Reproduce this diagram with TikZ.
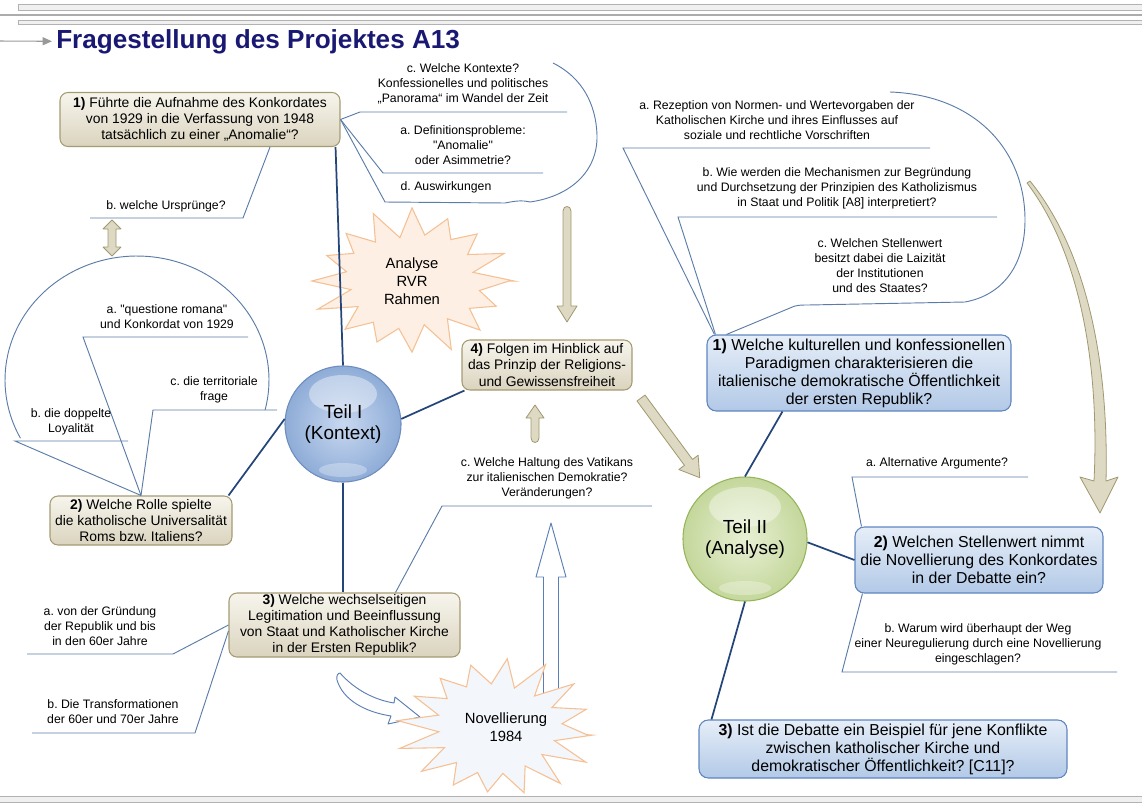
\documentclass[tikz,border=0pt]{standalone}
\usepackage{fontspec}
\setmainfont{Liberation Sans}[Ligatures=TeXOff]
\usetikzlibrary{calc,arrows.meta}
\frenchspacing

\definecolor{titleblue}{RGB}{25,25,115}
\definecolor{mainline}{RGB}{36,69,122}
\definecolor{thinline}{RGB}{92,124,168}
\definecolor{tantop}{RGB}{247,245,237}
\definecolor{tanbot}{RGB}{218,211,190}
\definecolor{tanedge}{RGB}{165,155,115}
\definecolor{bluetop}{RGB}{230,238,248}
\definecolor{bluebot}{RGB}{178,201,231}
\definecolor{blueedge}{RGB}{95,134,190}
\definecolor{arrowfill}{RGB}{221,217,195}
\definecolor{arrowedge}{RGB}{160,152,112}
\definecolor{starfill}{RGB}{253,239,227}
\definecolor{staredge}{RGB}{245,192,147}
\definecolor{startwofill}{RGB}{243,246,251}
\definecolor{hollowedge}{RGB}{91,127,181}
\definecolor{teilonein}{RGB}{200,216,240}
\definecolor{teiloneout}{RGB}{142,172,215}
\definecolor{teiloneedge}{RGB}{110,140,190}
\definecolor{teiltwoin}{RGB}{232,240,212}
\definecolor{teiltwoout}{RGB}{196,215,155}
\definecolor{teiltwoedge}{RGB}{150,180,90}

\newcommand\myFontTan{\fontsize{10.4}{12.2}\selectfont}
\newcommand\myFontBlue{\fontsize{11.9}{13.5}\selectfont}
\newcommand\myFontSmall{\fontsize{9.2}{11.25}\selectfont}
\newcommand\myFontTeil{\fontsize{14.2}{15.8}\selectfont}
\newcommand\myFontStar{\fontsize{11.1}{13.5}\selectfont}
\newcommand\myFontTitle{\fontsize{19.6}{22}\selectfont\bfseries}

\tikzset{
 tanbox/.style={draw=tanedge, line width=0.8pt, rounded corners=6pt, top color=tantop, bottom color=tanbot, align=center, inner sep=0pt, font=\myFontTan},
 bluebox/.style={draw=blueedge, line width=0.8pt, rounded corners=7pt, top color=bluetop, bottom color=bluebot, align=center, inner sep=0pt, font=\myFontBlue},
 smalltext/.style={align=center, inner sep=0pt, font=\myFontSmall},
 conn/.style={draw=mainline, line width=1.3pt},
 callline/.style={draw=thinline, line width=0.7pt},
 tanarrow/.style={draw=arrowedge, fill=arrowfill, line width=0.6pt, line join=round},
 hollowarrow/.style={draw=hollowedge, fill=white, line width=0.7pt, line join=round},
 starA/.style={draw=staredge, fill=starfill, line width=0.8pt},
 starB/.style={draw=staredge, fill=startwofill, line width=0.8pt},
 startext/.style={align=center, inner sep=0pt, font=\myFontStar},
 teiltext/.style={circle, align=center, inner sep=0pt, font=\myFontTeil},
}

\begin{document}
\begin{tikzpicture}[x=0.75pt,y=-0.75pt]
\useasboundingbox (0,0) rectangle (1142,807);

% header
\draw[draw=gray!60, fill=gray!12, line width=0.6pt] (18,4) rectangle (1146,10);
\draw[gray!65, line width=0.8pt] (-2,15) -- (1146,15);
\draw[draw=gray!60, fill=gray!12, line width=0.6pt] (18,20) rectangle (1146,24);
\node[anchor=base west, font=\myFontTitle, text=titleblue, inner sep=0pt] (title) at (56,48) {Fragestellung des Projektes A13};
\coordinate (tstart) at (-2,41);
\draw[gray!80, line width=0.8pt, -{Triangle[length=7pt,width=6pt]}] (tstart) -- ($(title.west)+(-4,0)$);

% bottom bar
\draw[draw=gray!60, fill=gray!12, line width=0.6pt] (-2,796) rectangle (1146,802);

% star "Analyse RVR Rahmen"
\draw[starA] plot[samples=33, domain=0:32, variable=\t]
 ({412+(mod(round(\t),2)==0 ? 97 : 66)*(1+0.06*sin(round(\t)*137))*cos(\t*11.25)},
  {281+(mod(round(\t),2)==0 ? 70 : 47)*(1+0.06*sin(round(\t)*137))*sin(\t*11.25)}) -- cycle;
\node[startext] (rvr) at (412,281) {Analyse\\RVR\\Rahmen};

% tan arrows
\draw[tanarrow] (563,306) -- (563,211) .. controls (563,205) and (571,205) .. (571,211) -- (571,306) -- (577,306) -- (567,322) -- (557,306) -- cycle;
\draw[tanarrow] (531,418) -- (531,438) .. controls (531,444) and (539,444) .. (539,438) -- (539,418) -- (544,418) -- (535,405) -- (526,418) -- cycle;
\begin{scope}[shift={(641,398)}, rotate=-53.6]
 \draw[tanarrow] (0,-5) -- (80,-5) -- (80,-12) -- (99,0) -- (80,12) -- (80,5) -- (0,5) -- cycle;
\end{scope}
\draw[tanarrow] (112,220) -- (121,229) -- (116,229) -- (116,247) -- (121,247) -- (112,256) -- (103,247) -- (108,247) -- (108,229) -- (103,229) -- cycle;
\draw[tanarrow] (1027,183) .. controls (1078,250) and (1100,360) .. (1094,481) -- (1080,477) -- (1100,513) -- (1118,477) -- (1106,481) .. controls (1109,360) and (1086,250) .. (1030,181) -- cycle;

% hollow arrows
\draw[hollowarrow] (543.5,700) -- (543.5,577) -- (536,577) -- (551,523) -- (566,577) -- (558.5,577) -- (558.5,700) -- cycle;
\draw[hollowarrow] (340,673) .. controls (355,690) and (375,700) .. (394,703) -- (395,697) -- (420,717) -- (388,724) -- (391,716) .. controls (365,712) and (343,700) .. (337,680) .. controls (336,676) and (338,673) .. (340,673) -- cycle;

% star "Novellierung 1984"
\draw[starB] plot[samples=33, domain=0:32, variable=\t]
 ({497+(mod(round(\t),2)==0 ? 96 : 62)*(1+0.06*sin(round(\t)*211))*cos(\t*11.25+6)},
  {728+(mod(round(\t),2)==0 ? 68 : 44)*(1+0.06*sin(round(\t)*211))*sin(\t*11.25+6)}) -- cycle;
\node[startext] (nov) at (506,727) {Novellierung\\1984};

% circles
\shade[inner color=teilonein, outer color=teiloneout] (343,424) circle[radius=58];
\fill[white, opacity=0.4] (343,394) ellipse[x radius=34, y radius=19];
\fill[white, opacity=0.3] (343,470) ellipse[x radius=24, y radius=7];
\node[teiltext, draw=teiloneedge, line width=0.8pt, minimum size=87pt] (t1) at (343,424) {Teil I\\(Kontext)};

\shade[inner color=teiltwoin, outer color=teiltwoout] (745,539) circle[radius=62];
\fill[white, opacity=0.4] (745,507) ellipse[x radius=36, y radius=20];
\fill[white, opacity=0.3] (745,588) ellipse[x radius=26, y radius=7];
\node[teiltext, draw=teiltwoedge, line width=0.8pt, minimum size=93pt] (t2) at (745,539) {Teil II\\(Analyse)};

% boxes
\node[tanbox, minimum width=210pt, minimum height=40.5pt] (a1) at (200,119.5) {\textbf{1)} Führte die Aufnahme des Konkordates\\von 1929 in die Verfassung von 1948\\tatsächlich zu einer „Anomalie“?};
\node[tanbox, minimum width=136.5pt, minimum height=36.75pt] (a2) at (141,520.5) {\textbf{2)} Welche Rolle spielte\\die katholische Universalität\\Roms bzw. Italiens?};
\node[tanbox, minimum width=173.25pt, minimum height=48pt] (a3) at (344.5,625) {\textbf{3)} Welche wechselseitigen\\Legitimation und Beeinflussung\\von Staat und Katholischer Kirche\\in der Ersten Republik?};
\node[tanbox, minimum width=127.5pt, minimum height=37.5pt] (a4) at (547,365) {\textbf{4)} Folgen im Hinblick auf\\das Prinzip der Religions-\\und Gewissensfreiheit};
\node[bluebox, minimum width=228pt, minimum height=57pt] (b1) at (859,373) {\textbf{1)} Welche kulturellen und konfessionellen\\Paradigmen charakterisieren die\\italienische demokratische Öffentlichkeit\\der ersten Republik?};
\node[bluebox, minimum width=186pt, minimum height=49.5pt] (b2) at (979,560) {\textbf{2)} Welchen Stellenwert nimmt\\die Novellierung des Konkordates\\in der Debatte ein?};
\node[bluebox, minimum width=276pt, minimum height=43.5pt] (b3) at (883,749) {\textbf{3)} Ist die Debatte ein Beispiel für jene Konflikte\\zwischen katholischer Kirche und\\demokratischer Öffentlichkeit? [C11]?};

% main connectors
\draw[conn] (t1.north) -- ($(a1.south east)+(-5,0)$);
\draw[conn] (t1.175) -- ($(a2.north east)+(-4,0)$);
\draw[conn] (t1.5) -- ($(a4.south west)+(3,0)$);
\draw[conn] (t1.south) -- (t1.south |- a3.north);
\draw[conn] (t2.north) -- ($(b1.south west)+(76,0)$);
\draw[conn] (t2.-3) -- (b2.west);
\draw[conn] (t2.south) -- ($(b3.north west)+(13,0)$);

% callouts of A1
\coordinate (u1b) at (243,218); \coordinate (u1bl) at (90,218);
\draw[callline] ($(a1.south)+(70,0)$) -- (u1b) -- (u1bl);
\coordinate (u1c) at (360,112); \coordinate (u1cr) at (567,112);
\draw[callline] (a1.east) -- (u1c) -- (u1cr);
\coordinate (u1a) at (383,173); \coordinate (u1ar) at (543,173);
\draw[callline] (a1.east) -- (u1a) -- (u1ar);
\coordinate (u1d) at (385,202);
\draw[callline] (a1.east) -- (u1d) -- (505,203) .. controls (515,201) and (522,200) .. (530,202) .. controls (572,196) and (598,170) .. (597,135) .. controls (596,105) and (583,78) .. (553,63);

% callouts of A2
\coordinate (u2a) at (83,337); \coordinate (u2ar) at (248,337);
\coordinate (u2c) at (153,410); \coordinate (u2cr) at (277,410);
\coordinate (u2b) at (15,441); \coordinate (u2br) at (128,441);
\draw[callline] (a2.north) -- (u2a) -- (u2ar);
\draw[callline] (a2.north) -- (u2c) -- (u2cr);
\draw[callline] (a2.north) -- (u2b) -- (u2br);
\draw[callline] plot[domain=-14:208, samples=90, variable=\a] ({137+132*cos(\a)}, {380-124*sin(\a)});

% callouts of A3
\coordinate (u3a) at (173,654); \coordinate (u3al) at (27,654);
\coordinate (u3b) at (195,733); \coordinate (u3bl) at (32,733);
\coordinate (u3c) at (442,506); \coordinate (u3cr) at (652,506);
\draw[callline] (a3.west) -- (u3a) -- (u3al);
\draw[callline] ($(a3.west)+(0,6)$) -- (u3b) -- (u3bl);
\draw[callline] ($(a3.north)+(51,0)$) -- (u3c) -- (u3cr);

% callouts of B1
\coordinate (u4a) at (623,148); \coordinate (u4ar) at (930,148);
\coordinate (u4b) at (678,217); \coordinate (u4br) at (997,217);
\draw[callline] ($(b1.north west)+(8,0)$) -- (u4a) -- (u4ar);
\draw[callline] ($(b1.north west)+(9,0)$) -- (u4b) -- (u4br);
\draw[callline] ($(b1.north west)+(20,0)$) -- (790,308) .. controls (796,305) and (800,305) .. (808,305) -- (965,302) .. controls (1003,295) and (1025,265) .. (1025,220) .. controls (1025,150) and (975,95) .. (890,92);

% callouts of B2
\coordinate (u5a) at (852,477); \coordinate (u5ar) at (1028,477);
\coordinate (u5b) at (842,672); \coordinate (u5br) at (1117,672);
\draw[callline] ($(b2.north west)+(7,0)$) -- (u5a) -- (u5ar);
\draw[callline] ($(b2.south west)+(8,0)$) -- (u5b) -- (u5br);

% callout texts
\node[smalltext] (c1c) at (463,84) {c. Welche Kontexte?\\Konfessionelles und politisches\\„Panorama“ im Wandel der Zeit};
\node[smalltext] (c1a) at (463,145) {a. Definitionsprobleme:\\"Anomalie"\\oder Asimmetrie?};
\node[smalltext] (c1d) at (446,187) {d. Auswirkungen};
\node[smalltext] (c1b) at (166,206) {b. welche Ursprünge?};
\node[smalltext] (c2a) at (167,317) {a. "questione romana"\\und Konkordat von 1929};
\node[smalltext] (c2c) at (214,390) {c. die territoriale\\frage};
\node[smalltext] (c2b) at (71,422) {b. die doppelte\\Loyalität};
\node[smalltext] (c3a) at (100,626) {a. von der Gründung\\der Republik und bis\\in den 60er Jahre};
\node[smalltext] (c3b) at (113,712) {b. Die Transformationen\\der 60er und 70er Jahre};
\node[smalltext] (c3c) at (547,478) {c. Welche Haltung des Vatikans\\zur italienischen Demokratie?\\Veränderungen?};
\node[smalltext] (c4a) at (777,120) {a. Rezeption von Normen- und Wertevorgaben der\\Katholischen Kirche und ihres Einflusses auf\\soziale und rechtliche Vorschriften};
\node[smalltext] (c4b) at (837,188) {b. Wie werden die Mechanismen zur Begründung\\und Durchsetzung der Prinzipien des Katholizismus\\in Staat und Politik [A8] interpretiert?};
\node[smalltext] (c4c) at (880,266) {c. Welchen Stellenwert\\besitzt dabei die Laizität\\der Institutionen\\und des Staates?};
\node[smalltext] (c5a) at (937,463) {a. Alternative Argumente?};
\node[smalltext] (c5b) at (978,644) {b. Warum wird überhaupt der Weg\\einer Neuregulierung durch eine Novellierung\\eingeschlagen?};
\end{tikzpicture}
\end{document}
